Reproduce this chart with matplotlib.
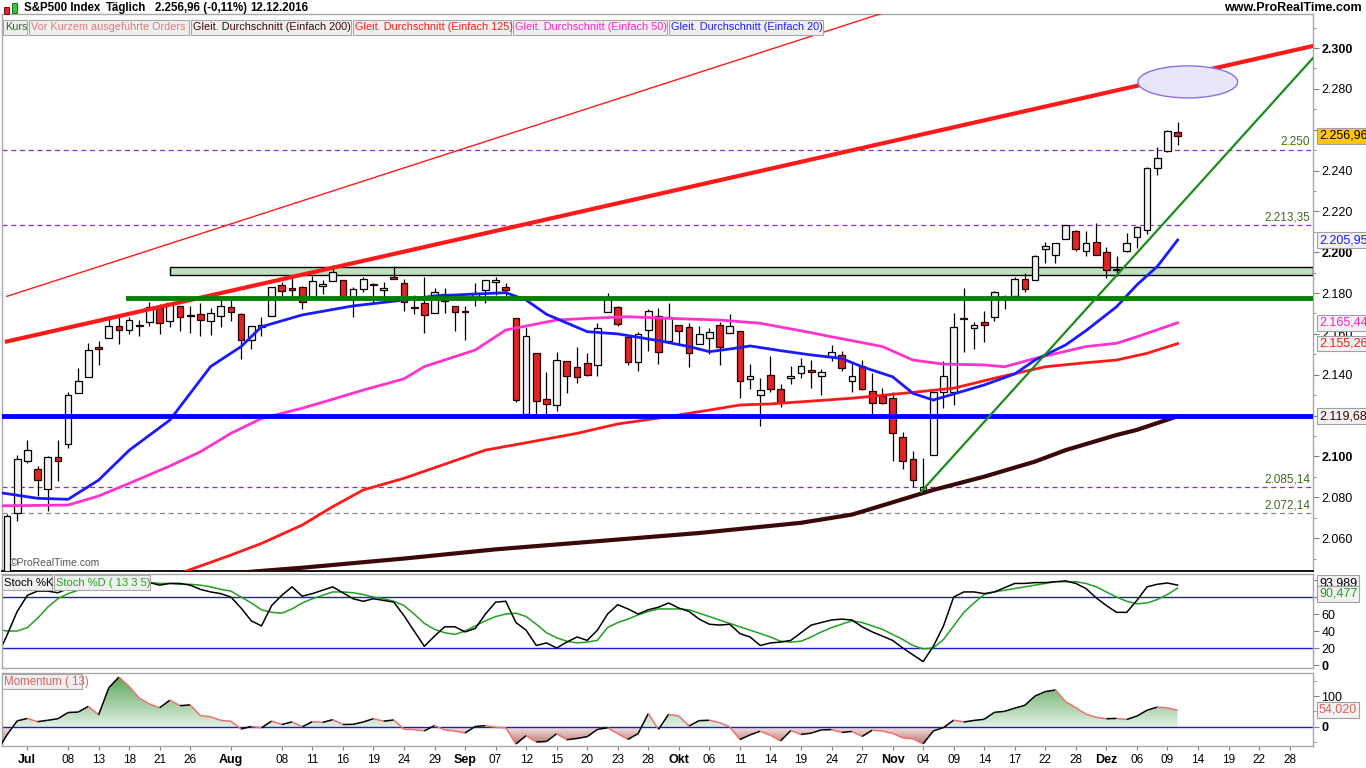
import numpy as np
import pandas as pd
import matplotlib
matplotlib.use('Agg')
import matplotlib.pyplot as plt
from matplotlib.patches import Rectangle, Ellipse
from matplotlib.collections import LineCollection
from matplotlib.colors import LinearSegmentedColormap
from matplotlib.path import Path

plt.rcParams['font.family'] = ['Liberation Sans', 'DejaVu Sans']

# trading days from Jun 29 2016 to year end (US market holidays removed)
holidays = pd.to_datetime(['2016-07-04', '2016-09-05', '2016-11-24', '2016-12-26'])
days = pd.bdate_range('2016-06-29', '2016-12-30')
days = days[~days.isin(holidays)]

# daily candles, Jun 29 .. Dec 12
opens = [2036.0, 2072.1, 2097.9, 2094.0, 2084.0, 2099.6, 2106.0, 2131.0, 2139.0, 2153.8,
         2157.9, 2164.0, 2162.0, 2163.8, 2166.0, 2172.9, 2166.5, 2173.7, 2169.0, 2169.8,
         2166.1, 2168.8, 2173.1, 2169.9, 2156.8, 2163.5, 2168.8, 2183.8, 2182.2, 2182.8,
         2178.0, 2183.7, 2186.1, 2186.2, 2177.8, 2181.9, 2184.2, 2181.6, 2187.8, 2185.1,
         2173.3, 2175.1, 2170.2, 2179.5, 2173.6, 2171.3, 2177.5, 2181.6, 2185.2, 2182.8,
         2168.0, 2120.9, 2150.5, 2127.9, 2125.4, 2146.5, 2144.0, 2145.9, 2144.6, 2170.9,
         2173.3, 2158.5, 2146.0, 2161.9, 2168.9, 2156.5, 2164.3, 2163.4, 2155.2, 2158.2,
         2164.2, 2160.4, 2161.4, 2137.7, 2130.3, 2139.7, 2133.0, 2138.3, 2140.8, 2142.5,
         2139.4, 2148.5, 2149.7, 2137.0, 2144.1, 2132.2, 2129.8, 2128.7, 2109.4, 2098.8,
         2083.8, 2100.6, 2131.6, 2131.6, 2167.5, 2162.7, 2165.6, 2168.3, 2177.5, 2178.6,
         2186.9, 2186.4, 2201.6, 2198.6, 2206.3, 2210.2, 2200.8, 2205.0, 2200.2, 2191.1,
         2200.7, 2207.3, 2210.7, 2241.1, 2249.7, 2258.8]
highs = [2072.0, 2100.7, 2108.0, 2095.5, 2100.0, 2108.0, 2131.7, 2143.2, 2155.4, 2156.5,
         2169.0, 2169.0, 2168.4, 2167.0, 2175.6, 2174.6, 2175.1, 2173.7, 2173.5, 2175.0,
         2172.9, 2177.1, 2178.3, 2170.2, 2163.8, 2168.2, 2182.9, 2185.4, 2187.7, 2183.4,
         2188.5, 2186.3, 2193.8, 2186.2, 2183.1, 2187.8, 2185.0, 2185.2, 2193.4, 2186.7,
         2179.0, 2187.9, 2182.3, 2182.3, 2173.8, 2173.6, 2184.9, 2186.6, 2187.9, 2184.9,
         2168.0, 2163.3, 2150.5, 2141.3, 2151.3, 2146.5, 2153.6, 2150.8, 2165.1, 2180.0,
         2173.8, 2158.5, 2161.1, 2172.4, 2172.7, 2175.3, 2164.3, 2165.5, 2164.0, 2162.9,
         2165.9, 2169.6, 2161.6, 2145.4, 2138.2, 2149.2, 2135.6, 2144.4, 2148.4, 2147.2,
         2142.6, 2154.8, 2151.4, 2145.7, 2147.1, 2140.7, 2133.3, 2131.5, 2111.8, 2102.6,
         2099.1, 2132.0, 2146.9, 2170.1, 2182.3, 2165.9, 2171.4, 2180.8, 2179.2, 2188.1,
         2189.9, 2198.7, 2204.8, 2204.7, 2213.4, 2211.1, 2210.5, 2214.1, 2202.6, 2198.0,
         2209.4, 2212.8, 2241.6, 2251.7, 2259.8, 2264.0]
lows = [2036.0, 2068.5, 2097.0, 2080.5, 2073.5, 2088.0, 2104.0, 2131.0, 2139.0, 2145.0,
        2157.9, 2155.0, 2160.0, 2159.0, 2164.0, 2159.8, 2163.2, 2161.6, 2160.2, 2159.1,
        2159.7, 2163.5, 2166.2, 2147.6, 2152.6, 2159.1, 2168.8, 2177.9, 2178.6, 2172.0,
        2178.0, 2179.4, 2186.1, 2178.1, 2168.5, 2180.5, 2175.1, 2176.0, 2186.8, 2171.3,
        2169.7, 2160.4, 2170.2, 2170.4, 2161.4, 2157.1, 2173.6, 2175.1, 2179.1, 2177.9,
        2126.8, 2119.1, 2120.3, 2119.6, 2122.4, 2131.2, 2135.9, 2139.2, 2139.6, 2170.9,
        2164.0, 2145.0, 2141.6, 2151.8, 2145.2, 2156.5, 2154.8, 2144.0, 2155.2, 2150.3,
        2144.9, 2160.4, 2128.8, 2132.8, 2114.7, 2131.6, 2124.4, 2135.5, 2138.2, 2133.4,
        2130.1, 2146.9, 2141.9, 2131.6, 2132.5, 2119.4, 2125.5, 2097.9, 2094.0, 2085.2,
        2083.8, 2100.6, 2123.6, 2125.4, 2151.2, 2152.5, 2156.1, 2166.4, 2172.2, 2176.7,
        2180.4, 2186.4, 2194.5, 2194.5, 2206.3, 2200.4, 2198.2, 2198.8, 2187.4, 2188.4,
        2200.0, 2202.2, 2208.9, 2237.6, 2249.2, 2252.4]
closes = [2070.77, 2098.86, 2102.95, 2088.55, 2099.73, 2097.90, 2129.90, 2137.16, 2152.14, 2152.43,
          2163.75, 2161.74, 2166.89, 2163.78, 2173.02, 2165.17, 2175.03, 2168.48, 2169.18, 2166.58,
          2170.06, 2173.60, 2170.84, 2157.03, 2163.79, 2164.25, 2182.87, 2180.89, 2181.74, 2175.49,
          2185.79, 2184.05, 2190.15, 2178.15, 2182.22, 2187.02, 2183.87, 2182.64, 2186.90, 2175.44,
          2172.47, 2169.04, 2180.38, 2176.12, 2170.95, 2170.86, 2179.98, 2186.48, 2186.16, 2181.30,
          2127.81, 2159.04, 2127.02, 2125.77, 2147.26, 2139.16, 2139.12, 2139.76, 2163.12, 2177.18,
          2164.69, 2146.10, 2159.93, 2171.37, 2151.13, 2168.27, 2161.20, 2150.49, 2159.73, 2160.77,
          2153.74, 2163.66, 2136.73, 2139.18, 2132.55, 2132.98, 2126.50, 2139.60, 2144.29, 2141.34,
          2141.16, 2151.33, 2143.16, 2139.43, 2133.04, 2126.41, 2126.15, 2111.72, 2097.94, 2088.66,
          2085.18, 2131.52, 2139.56, 2163.26, 2167.48, 2164.45, 2164.20, 2180.39, 2176.94, 2187.12,
          2181.90, 2198.18, 2202.94, 2204.72, 2213.35, 2201.72, 2204.66, 2198.81, 2191.08, 2191.95,
          2204.71, 2212.23, 2241.35, 2246.19, 2259.53, 2256.96]

# moving averages: (trading day index, value)
sma20_day = [-1, 1, 3, 6, 9, 12, 16, 18, 20, 23, 25, 29, 34, 39, 42, 49, 51, 53, 57, 60, 64,
             67, 69, 71, 73, 76, 79, 82, 84, 87, 89, 91, 93, 96, 99, 101, 104, 106, 109, 111, 113, 115]
sma20_val = [2082.5, 2081.0, 2079.5, 2079.0, 2088.4, 2103.0, 2117.8, 2130.9, 2144.0, 2153.8, 2163.5,
             2169.3, 2173.7, 2176.6, 2178.6, 2180.2, 2176.6, 2169.6, 2161.1, 2160.0, 2156.7,
             2153.8, 2151.3, 2152.6, 2154.1, 2151.8, 2149.7, 2148.0, 2143.9, 2139.0, 2130.9, 2127.6,
             2130.6, 2135.0, 2140.4, 2147.2, 2154.6, 2161.6, 2173.3, 2184.0, 2193.0, 2205.95]
sma50_day = [-1, 6, 9, 12, 16, 19, 22, 25, 29, 32, 35, 39, 41, 46, 49, 54, 57, 61, 65, 70, 74,
             79, 81, 86, 89, 92, 96, 98, 101, 106, 109, 111, 115]
sma50_val = [2075.8, 2076.2, 2080.6, 2086.8, 2095.3, 2102.3, 2111.3, 2118.6, 2123.6, 2128.0, 2132.5,
             2138.0, 2144.0, 2152.1, 2161.9, 2166.8, 2167.6, 2168.4, 2167.6, 2166.8, 2165.2,
             2160.6, 2158.6, 2153.8, 2147.2, 2145.2, 2144.8, 2143.9, 2148.0, 2153.8, 2155.4, 2158.6, 2165.44]
sma125_day = [16, 22, 25, 29, 32, 35, 39, 47, 51, 56, 60, 65, 69, 72, 75, 79, 83, 88, 93, 97,
              102, 106, 109, 112, 115]
sma125_val = [2041.0, 2051.7, 2057.4, 2066.4, 2075.4, 2083.6, 2089.3, 2103.1, 2106.7, 2111.3, 2115.9,
              2119.5, 2122.7, 2125.2, 2125.7, 2127.1, 2128.5, 2130.9, 2133.4, 2138.3, 2143.9,
              2145.9, 2147.2, 2150.5, 2155.26]
sma200_day = [20, 29, 39, 48, 58, 68, 78, 83, 86, 91, 96, 101, 104, 109, 111, 115]
sma200_val = [2042.0, 2045.5, 2050.0, 2054.5, 2058.5, 2062.5, 2067.5, 2071.5, 2076.0, 2083.6,
              2090.1, 2097.5, 2103.1, 2110.5, 2113.0, 2119.68]

# indicators, first value is Jun 28
stoch_k = [9, 35, 63, 82, 87, 87, 85, 90, 94, 96, 97, 98, 97, 96, 97, 97, 94, 96, 96, 94, 89,
           86, 84, 80, 67, 52, 46, 70, 82, 92, 81, 84, 88, 92, 85, 78, 75, 78, 76, 74, 58,
           40, 22, 34, 45, 45, 39, 43, 60, 74, 75, 50, 41, 23, 26, 20, 27, 33, 29, 41, 60,
           71, 66, 60, 65, 68, 73, 67, 63, 54, 48, 47, 48, 37, 33, 23, 26, 27, 29, 38, 47,
           50, 53, 54, 53, 45, 39, 34, 29, 20, 12, 4, 22, 46, 80, 86, 86, 84, 86, 91, 96,
           96, 97, 97, 98, 99, 96, 90, 79, 70, 62, 62, 76, 92, 95, 96.5, 93.989]
stoch_d = [42, 40, 40, 44, 55, 68, 78, 84, 88, 91, 93, 94, 95, 96, 96, 97, 96, 96, 95, 95, 94,
           92, 89, 87, 80, 73, 65, 62, 61, 66, 73, 78, 82, 86, 86, 85, 83, 80, 78, 75, 70,
           60, 49, 42, 38, 36, 40, 46, 52, 57, 60, 61, 57, 48, 38, 32, 28, 26, 27, 29, 44,
           50, 54, 59, 63, 66, 66, 66, 65, 61, 57, 53, 49, 45, 41, 37, 33, 28, 27, 28, 33,
           39, 44, 48, 52, 50, 46, 42, 36, 30, 23, 19, 20, 30, 46, 62, 73, 83, 86, 88, 90,
           92, 94, 96, 98, 98, 98, 96, 92, 86, 80, 75, 72, 73, 77, 83, 90.477]
momentum = [-79.4, -25.3, 19.8, 27.6, 17.1, 21.7, 26.7, 46.7, 48.3, 66.7, 39.1, 126.3, 161.2,
            130.8, 93.0, 74.2, 62.2, 86.5, 68.8, 71.3, 36.7,
            32.9, 21.5, 18.4, -6.7, 2.1, -2.6, 19.1, 7.9, 16.6, 0.5, 17.3, 14.9, 23.6, 8.1, 8.6,
            16.2, 26.8, 18.9, 22.7, -7.4,
            -8.4, -12.7, 4.9, -9.7, -13.1, -19.3, 1.8, 4.3, -0.9, -2.6, -54.8, -27.9, -48.4,
            -46.7, -21.8, -41.2, -37.0, -31.2, -7.7, -2.8,
            -21.8, -40.1, -21.4, 43.6, -7.9, 41.3, 35.4, 3.2, 20.6, 21.7, 14.0, 0.5, -40.5,
            -25.5, -13.6, -27.0, -44.9, -11.5, -24.0, -19.9,
            -9.3, -8.4, -17.6, -14.3, -30.6, -10.3, -13.0, -20.8, -35.0, -37.8, -54.4, -12.8,
            -1.8, 22.1, 16.2, 21.3, 24.8, 47.4, 50.5, 61.0,
            70.2, 100.2, 114.3, 119.5, 81.8, 62.2, 41.4, 31.3, 26.6, 27.8, 24.3, 35.3, 54.2,
            64.3, 61.4, 54.02]

# drawn objects: trend lines (day index, value) and horizontal levels
red_thick = [(0, 2156.3), (128.3, 2301.0)]
red_thin = [(0, 2178.4), (90, 2323.5)]
green_trend = [(89.8, 2082.7), (128.3, 2295.1)]
green_level = (11.9, 2177.7)
blue_level = 2119.68
zone = (16.0, 2189.0, 2192.6)
dashed_levels = [2250.0, 2213.35, 2085.14, 2072.14]
dashed_labels = ['2.250', '2.213,35', '2.085,14', '2.072,14']
target = (116.0, 2283.4, 9.8, 15.7)

tick_dates = ['2016-07-01', '2016-07-08', '2016-07-13', '2016-07-18', '2016-07-21', '2016-07-26',
              '2016-08-01', '2016-08-08', '2016-08-11', '2016-08-16', '2016-08-19', '2016-08-24',
              '2016-08-29', '2016-09-01', '2016-09-07', '2016-09-12', '2016-09-15', '2016-09-20',
              '2016-09-23', '2016-09-28', '2016-10-03', '2016-10-06', '2016-10-11', '2016-10-14',
              '2016-10-19', '2016-10-24', '2016-10-27', '2016-11-01', '2016-11-04', '2016-11-09',
              '2016-11-14', '2016-11-17', '2016-11-22', '2016-11-28', '2016-12-01', '2016-12-06',
              '2016-12-09', '2016-12-14', '2016-12-19', '2016-12-22', '2016-12-28']
tick_labels = ['Jul', '08', '13', '18', '21', '26', 'Aug', '08', '11', '16', '19', '24', '29',
               'Sep', '07', '12', '15', '20', '23', '28', 'Okt', '06', '11', '14', '19', '24', '27',
               'Nov', '04', '09', '14', '17', '22', '28', 'Dez', '06', '09', '14', '19', '22', '28']

W, H = 1366, 768
fig = plt.figure(figsize=(W / 100, H / 100), dpi=100)


def axes_px(left, top, right, bottom):
    return fig.add_axes([left / W, 1 - bottom / H, (right - left) / W, (bottom - top) / H])


def text_px(x, y, s, **kw):
    return fig.text(x / W, 1 - y / H, s, **kw)


def box_px(x0, y0, x1, y1, fc, ec, lw=0.8):
    fig.patches.append(Rectangle((x0 / W, 1 - y1 / H), (x1 - x0) / W, (y1 - y0) / H,
                                 transform=fig.transFigure, facecolor=fc, edgecolor=ec,
                                 lw=lw, zorder=8))


def de_num(v, dec):
    s = f'{v:,.{dec}f}'
    return s.replace(',', 'X').replace('.', ',').replace('X', '.')


XL = (-0.49, 128.3)
GRAY = '#a8a8a8'

ax = axes_px(2, 14, 1313, 571)
axs = axes_px(2, 574, 1313, 668)
axm = axes_px(2, 673, 1313, 746)

for a in (ax, axs, axm):
    a.set_xlim(*XL)
    for sp in a.spines.values():
        sp.set_color(GRAY)
        sp.set_linewidth(1)
    a.yaxis.tick_right()
    a.tick_params(axis='y', which='both', direction='out', color='#808080', labelsize=9, pad=2)
    a.tick_params(axis='y', which='major', length=4)
    a.tick_params(axis='y', which='minor', length=2)
    a.tick_params(axis='x', bottom=False, labelbottom=False)
ax.spines['bottom'].set_color('black')
ax.spines['bottom'].set_linewidth(1.3)

# ---- price panel ----
ax.set_ylim(2043.9, 2316.65)
yt = np.arange(2060, 2301, 20)
ax.set_yticks(yt)
ax.set_yticks(np.arange(2050, 2311, 10), minor=True)
# labels sitting under the value boxes are left empty
ax.set_yticklabels(['' if v in (2120, 2260) else de_num(v, 0) for v in yt])
for lab, v in zip(ax.get_yticklabels(), yt):
    if v % 100 == 0:
        lab.set_fontweight('bold')

x = np.arange(len(closes))
o = np.array(opens)
c = np.array(closes)
hi = np.array(highs)
lo = np.array(lows)
up = c >= o
ax.vlines(x, lo, hi, color='black', lw=0.9, zorder=3)
blo = np.minimum(o, c)
bh = np.maximum(np.abs(c - o), 0.5)
ax.bar(x[up], bh[up], bottom=blo[up], width=0.66, color='#f3f3f3', edgecolor='black', lw=0.9, zorder=3)
ax.bar(x[~up], bh[~up], bottom=blo[~up], width=0.66, color='#e02424', edgecolor='#2a0000', lw=0.9, zorder=3)

ax.plot(sma200_day, sma200_val, color='#3a0808', lw=3, zorder=4, solid_capstyle='butt')
ax.plot(sma125_day, sma125_val, color='#ff1a1a', lw=2, zorder=4)
ax.plot(sma50_day, sma50_val, color='#ff33cc', lw=2, zorder=4)
ax.plot(sma20_day, sma20_val, color='#1a1aff', lw=2, zorder=4)

ax.add_patch(Rectangle((zone[0], zone[1]), XL[1] - zone[0], zone[2] - zone[1],
                       facecolor='#bfe0bf', edgecolor='black', lw=1, zorder=2))
for lvl, lab, col in zip(dashed_levels, dashed_labels, ['#8a2be2', '#8a2be2', '#8a2be2', '#888888']):
    ax.axhline(lvl, color=col, lw=0.9, ls=(0, (4, 3)), zorder=2)
    ax.text(XL[1] - 0.3, lvl + 0.8, lab, color='#3d6b1f', fontsize=8.5, ha='right', va='bottom', zorder=6)

ax.plot(*zip(*red_thin), color='#ff1a1a', lw=1, zorder=5)
ax.plot(*zip(*red_thick), color='#ff1a1a', lw=3, zorder=5)
ax.plot([green_level[0], XL[1]], [green_level[1]] * 2, color='#008000', lw=3.5, zorder=5)
ax.axhline(blue_level, color='#0000ff', lw=3.5, zorder=5)
ax.plot(*zip(*green_trend), color='#1a8c1a', lw=1.6, zorder=5)
ax.add_patch(Ellipse(target[:2], target[2], target[3], facecolor='#e8e6fa', edgecolor='#8f6fe0',
                     lw=1, zorder=5))
ax.text(0.3, 2046.2, '©ProRealTime.com', fontsize=7.5, color='#555555', zorder=6)

# ---- stochastic ----
ix = np.arange(-1, len(stoch_k) - 1)
axs.set_ylim(-3.5, 107.1)
axs.set_yticks([0, 20, 40, 60, 80, 100])
axs.set_yticklabels(['0', '20', '40', '60', '', ''])
axs.get_yticklabels()[0].set_fontweight('bold')
axs.axhline(80, color='#1c1cc8', lw=1)
axs.axhline(20, color='#1c1cc8', lw=1)
axs.plot(ix, stoch_d, color='#22a022', lw=1.1)
axs.plot(ix, stoch_k, color='black', lw=1.1)

# ---- momentum ----
m = np.array(momentum)
axm.set_ylim(-61.3, 174.2)
axm.set_yticks([0, 100])
axm.set_yticks([-50, 50, 150], minor=True)
axm.set_yticklabels(['0', '100'])
axm.get_yticklabels()[0].set_fontweight('bold')
cm_pos = LinearSegmentedColormap.from_list('pos', ['#e2f0e2', '#58a558'])
cm_neg = LinearSegmentedColormap.from_list('neg', ['#b46a6a', '#f2e2e2'])
grad = np.linspace(0, 1, 200).reshape(-1, 1)
for sign, cmap, y0, y1 in [(1, cm_pos, 0, 165), (-1, cm_neg, -60, 0)]:
    fb = axm.fill_between(ix, 0, m, where=(m * sign >= 0), interpolate=True,
                          facecolor='none', edgecolor='none')
    im = axm.imshow(grad, extent=(ix[0], ix[-1], y0, y1), origin='lower', aspect='auto',
                    cmap=cmap, zorder=1)
    im.set_clip_path(Path.make_compound_path(*fb.get_paths()), axm.transData)
axm.axhline(0, color='#1c1cc8', lw=1, zorder=2)
pts = np.column_stack([ix, m])
segs = np.stack([pts[:-1], pts[1:]], axis=1)
cols = ['black' if d >= 0 else '#f07070' for d in np.diff(m)]
axm.add_collection(LineCollection(segs, colors=cols, linewidths=1.1, zorder=3))
axm.set_xlim(*XL)
axm.set_ylim(-61.3, 174.2)

# x axis
tpos = days.get_indexer(pd.to_datetime(tick_dates))
axm.tick_params(axis='x', bottom=True, labelbottom=True, direction='out', length=3,
                color='#808080', labelsize=8.5, pad=3)
axm.set_xticks(tpos)
axm.set_xticklabels(tick_labels)
for lab in axm.get_xticklabels():
    if not lab.get_text().isdigit():
        lab.set_fontweight('bold')
        lab.set_fontsize(9)

# ---- header and legends ----
text_px(24, 8, 'S&P500 Index', fontsize=8.3, fontweight='bold', va='center')
text_px(106, 8, 'Täglich', fontsize=8.3, fontweight='bold', va='center')
text_px(155, 8, '2.256,96 (-0,11%)', fontsize=8.3, fontweight='bold', va='center')
text_px(250, 8, '12.12.2016', fontsize=8.3, fontweight='bold', va='center')
text_px(1362, 8, 'www.ProRealTime.com', fontsize=9, fontweight='bold', va='center', ha='right')
box_px(4, 7, 9, 14, '#e02424', '#600000', 0.6)
box_px(12, 3, 17, 13, '#33cc33', '#105010', 0.6)

legend = [(3, 27, 'Kurs', '#2e6b1e'), (29, 189, 'Vor Kurzem ausgeführte Orders', '#e07a7a'),
          (191, 351, 'Gleit. Durchschnitt (Einfach 200)', '#3a0808'),
          (353, 511, 'Gleit. Durchschnitt (Einfach 125)', '#ff1a1a'),
          (513, 667, 'Gleit. Durchschnitt (Einfach 50)', '#ff22cc'),
          (669, 823, 'Gleit. Durchschnitt (Einfach 20)', '#1a1aff')]
for x0, x1, s, col in legend:
    box_px(x0, 20, x1, 35, '#f0f0f0', '#a8a8a8')
    text_px(x0 + 2, 27.5, s, fontsize=7.8, color=col, va='center', zorder=9)
box_px(2, 575, 52, 590, '#f0f0f0', '#a8a8a8')
text_px(4, 582.5, 'Stoch %K', fontsize=8.1, color='black', va='center', zorder=9)
box_px(54, 575, 150, 590, '#f0f0f0', '#a8a8a8')
text_px(56, 582.5, 'Stoch %D ( 13 3 5)', fontsize=8.0, color='#22a022', va='center', zorder=9)
box_px(2, 674, 82, 689, '#f0f0f0', '#a8a8a8')
text_px(4, 681.5, 'Momentum ( 13)', fontsize=8.3, color='#e06060', va='center', zorder=9)

# ---- value boxes on the right axis ----
vbox = dict(boxstyle='square,pad=0.15', facecolor='#f2f2f2', edgecolor='#a0a0a0', lw=0.8)


def value_box(y, s, col, fc='#f2f2f2'):
    b = dict(vbox, facecolor=fc)
    text_px(1319, y, s, fontsize=9, color=col, va='center', bbox=b, zorder=10)


def price_y(v):
    return 14 + (2316.65 - v) * (557 / (2316.65 - 2043.9))


value_box(price_y(closes[-1]), de_num(closes[-1], 2), 'black', '#ffc800')
value_box(price_y(sma20_val[-1]), de_num(sma20_val[-1], 2), '#1a1aff')
value_box(price_y(sma50_val[-1]), de_num(sma50_val[-1], 2), '#ff22cc')
value_box(price_y(sma125_val[-1]), de_num(sma125_val[-1], 2), '#ff1a1a')
value_box(price_y(sma200_val[-1]), de_num(sma200_val[-1], 2), '#3a0808')
value_box(583, de_num(stoch_k[-1], 3), 'black')
value_box(594, de_num(stoch_d[-1], 3), '#22a022')
value_box(710, de_num(momentum[-1], 3), '#e06060')

fig.savefig('out.png', dpi=100)
